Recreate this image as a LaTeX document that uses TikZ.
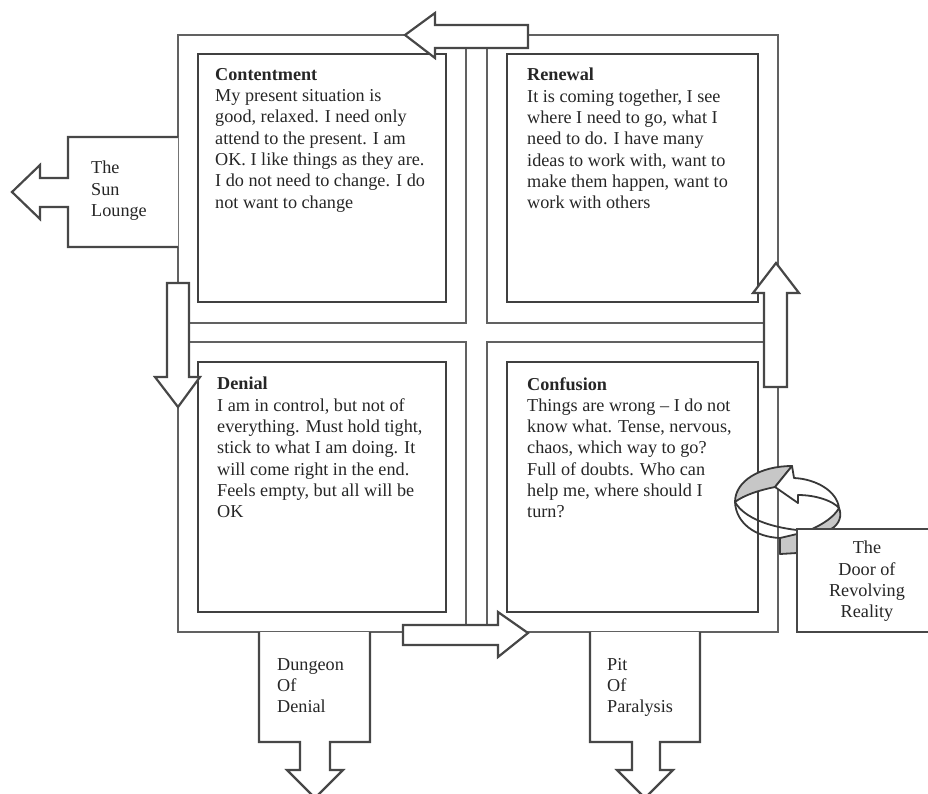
\documentclass[tikz,border=0pt]{standalone}
\usepackage{fontspec}
\setmainfont{Liberation Serif}
\begin{document}
\begin{tikzpicture}[x=1pt, y=-1pt,
    quad/.style={draw=black!62, line width=1.6pt},
    room/.style={draw=black!75, line width=2.8pt},
    blockarrow/.style={draw=black!72, line width=2.2pt, fill=white, line join=miter},
    ring/.style={draw=black!78, line width=1.8pt, line join=round},
    txt/.style={font=\fontsize{18.2}{21.3}\selectfont, align=left, inner sep=0pt, anchor=north west, text=black!85}]
    \useasboundingbox (0,0) rectangle (928,793);
    % quadrants and the corridors between them
    \draw[quad] (178,35) rectangle (466,323);
    \draw[quad] (487,35) rectangle (778,323);
    \draw[quad] (178,342) rectangle (466,632);
    \draw[quad] (487,342) rectangle (778,632);
    % the four rooms
    \draw[room] (198,54) rectangle (446,302);
    \draw[room] (507,54) rectangle (758,302);
    \draw[room] (198,362) rectangle (446,612);
    \draw[room] (507,362) rectangle (758,612);
    \node[txt] (contentment) at (215,68) {\textbf{Contentment}\\My present situation is\\good, relaxed. I need only\\attend to the present. I am\\OK. I like things as they are.\\I do not need to change. I do\\not want to change};
    \node[txt] (renewal) at (527,68) {\textbf{Renewal}\\It is coming together, I see\\where I need to go, what I\\need to do. I have many\\ideas to work with, want to\\make them happen, want to\\work with others};
    \node[txt] (denial) at (217,377) {\textbf{Denial}\\I am in control, but not of\\everything. Must hold tight,\\stick to what I am doing. It\\will come right in the end.\\Feels empty, but all will be\\OK};
    \node[txt] (confusion) at (527,377) {\textbf{Confusion}\\Things are wrong -- I do not\\know what. Tense, nervous,\\chaos, which way to go?\\Full of doubts. Who can\\help me, where should I\\turn?};
    % exits
    \draw[blockarrow] (178,137) -- (68,137) -- (68,178) -- (40,178) -- (40,165) -- (12,192) -- (40,219) -- (40,207) -- (68,207) -- (68,247) -- (178,247);
    \node[txt] (sun) at (91,161) {The\\Sun\\Lounge};
    \draw[blockarrow] (259,632) -- (259,742) -- (300,742) -- (300,770) -- (287,770) -- (315,798) -- (343,770) -- (330,770) -- (330,742) -- (370,742) -- (370,632);
    \node[txt] (dungeon) at (277,658) {Dungeon\\Of\\Denial};
    \draw[blockarrow] (590,632) -- (590,742) -- (632,742) -- (632,770) -- (617,770) -- (645,798) -- (673,770) -- (660,770) -- (660,742) -- (700,742) -- (700,632);
    \node[txt] (pit) at (607,658) {Pit\\Of\\Paralysis};
    % moves round the cycle
    \draw[blockarrow] (405,35) -- (435,13) -- (435,25) -- (528,25) -- (528,48) -- (435,48) -- (435,58) -- cycle;
    \draw[blockarrow] (167,283) -- (189,283) -- (189,377) -- (200,377) -- (178,407) -- (155,377) -- (167,377) -- cycle;
    \draw[blockarrow] (403,625) -- (498,625) -- (498,612) -- (528,633) -- (498,657) -- (498,645) -- (403,645) -- cycle;
    \draw[blockarrow] (764,387) -- (764,293) -- (753,293) -- (776,263) -- (799,293) -- (787,293) -- (787,387) -- cycle;
    % revolving door
    \draw[ring, fill=black!22] (735,502) .. controls (735,481) and (760,466) .. (792,466) -- (775,487) .. controls (760,490) and (744,495) .. (735,502) -- cycle;
    \draw[ring, fill=white] (792,466) -- (775,487) -- (798,503) -- (798,495) .. controls (816,495) and (833,501) .. (839,508) .. controls (837,491) and (816,479) .. (794,478) -- cycle;
    \draw[ring, fill=black!22] (839,508) .. controls (842,515) and (840,524) .. (831,529) -- (812,529) .. controls (823,524) and (834,517) .. (839,508) -- cycle;
    \draw[ring] (735,502) .. controls (744,518) and (770,527) .. (797,530);
    \draw[ring] (735,502) .. controls (736,523) and (755,537) .. (780,538);
    \draw[ring, fill=black!22] (780,538) -- (797,534) -- (797,553) -- (780,554) -- cycle;
    \draw[blockarrow] (797,529) rectangle (945,632);
    \node[txt, anchor=north, align=center] (door) at (867,541) {The\\Door of\\Revolving\\Reality};
\end{tikzpicture}
\end{document}
